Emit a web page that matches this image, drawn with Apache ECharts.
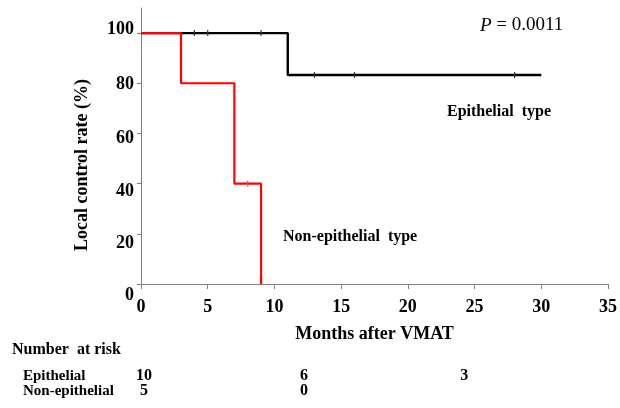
<!DOCTYPE html>
<html>
<head>
<meta charset="utf-8">
<script src="https://cdn.jsdelivr.net/npm/echarts@6/dist/echarts.min.js"></script>
<style>html,body{margin:0;padding:0;background:#fff;}#c{width:620px;height:408px;}</style>
</head>
<body>
<div id="c"></div>
<script>
// Kaplan-Meier steps (months, local control %)
const epiTimes = [0, 11, 30];
const epiRate = [100, 83.3, 83.3];
const nonTimes = [0, 3, 7, 9];
const nonRate = [100, 80, 40, 0];
// censoring marks
const epiCensorTimes = [4, 5, 9, 13, 16, 28];
const epiCensorRate = [100, 100, 100, 83.3, 83.3, 83.3];
const nonCensorTimes = [8];
const nonCensorRate = [40];
// number at risk
const riskTimes = [0, 12, 24];
const riskGroups = ['Epithelial', 'Non-epithelial'];
const epiRisk = [10, 6, 3];
const nonRisk = [5, 0];
// ticks
const xTicks = [0, 5, 10, 15, 20, 25, 30, 35];
const yTicks = [0, 20, 40, 60, 80, 100];

const FONT = "'Liberation Serif','Times New Roman',serif";
const zip = (a, b) => a.map((v, i) => [v, b[i]]);

// label vertical quirks of the original (px shift)
const yShift = {0: 11, 20: 10, 40: 8, 60: 5, 80: 1, 100: -4};
const rich = {};
yTicks.forEach(v => {
  const d = yShift[v];
  rich['v' + v] = {
    fontFamily: FONT, fontWeight: 'bold', fontSize: 18, color: '#000',
    padding: d >= 0 ? [2 * d, 0, 0, 0] : [0, 0, -2 * d, 0]
  };
});

const riskData = [];
epiRisk.forEach((n, i) => riskData.push([riskTimes[i], riskGroups[0], n]));
nonRisk.forEach((n, i) => riskData.push([riskTimes[i], riskGroups[1], n]));

const chart = echarts.init(document.getElementById('c'), null, {renderer: 'canvas'});
chart.setOption({
  animation: false,
  backgroundColor: '#fff',
  textStyle: {fontFamily: FONT},
  grid: [
    {left: 141, right: 12, top: 8, bottom: 124, outerBoundsMode: 'none', containLabel: false},
    {left: 141, right: 12, top: 368, height: 31, outerBoundsMode: 'none', containLabel: false}
  ],
  xAxis: [{
    type: 'value', gridIndex: 0, min: 0, max: 35, interval: 5,
    name: 'Months after VMAT', nameLocation: 'middle', nameGap: 41,
    nameTextStyle: {fontFamily: FONT, fontWeight: 'bold', fontSize: 18, color: '#000'},
    axisLine: {lineStyle: {color: '#808080', width: 1}},
    axisTick: {show: true, length: 5, lineStyle: {color: '#808080'}},
    axisLabel: {customValues: xTicks, margin: 14, fontFamily: FONT, fontWeight: 'bold', fontSize: 18, color: '#000'},
    splitLine: {show: false}
  }, {
    type: 'value', gridIndex: 1, min: 0, max: 35, show: false
  }],
  yAxis: [{
    type: 'value', gridIndex: 0, min: 0, max: 110, interval: 10,
    name: 'Local control rate (%)', nameLocation: 'middle', nameGap: 50,
    nameTextStyle: {fontFamily: FONT, fontWeight: 'bold', fontSize: 18, color: '#000', padding: [0, 38, 0, 0]},
    axisLine: {show: true, lineStyle: {color: '#808080', width: 1}},
    axisTick: {show: true, customValues: yTicks, length: 4, lineStyle: {color: '#808080'}},
    axisLabel: {
      customValues: yTicks, margin: 7,
      formatter: v => '{v' + v + '|' + v + '}',
      rich: rich
    },
    splitLine: {show: false}
  }, {
    type: 'category', gridIndex: 1, data: riskGroups, inverse: true,
    axisLine: {show: false}, axisTick: {show: false},
    axisLabel: {interval: 0, hideOverlap: false, align: 'left', margin: 118, fontFamily: FONT, fontWeight: 'bold', fontSize: 15, color: '#000'}
  }],
  graphic: [
    {type: 'text', left: 12, top: 342, style: {text: 'Number  at risk', font: 'bold 16px ' + FONT, fill: '#000'}},
    {type: 'text', left: 480, top: 16, style: {
      text: '{i|P} = 0.0011', fill: '#000',
      rich: {i: {fontFamily: FONT, fontStyle: 'italic', fontSize: 19, fill: '#000'}},
      font: '19px ' + FONT}},
    {type: 'text', left: 447, top: 104, style: {text: 'Epithelial  type', font: 'bold 16px ' + FONT, fill: '#000'}},
    {type: 'text', left: 283, top: 229, style: {text: 'Non-epithelial  type', font: 'bold 16px ' + FONT, fill: '#000'}}
  ],
  series: [
    {
      type: 'line', xAxisIndex: 0, yAxisIndex: 0, step: 'end', symbol: 'none',
      data: zip(epiTimes, epiRate), lineStyle: {color: '#000', width: 2.4}, z: 2
    },
    {
      type: 'scatter', xAxisIndex: 0, yAxisIndex: 0, symbol: 'rect', symbolSize: [1.2, 6],
      data: zip(epiCensorTimes, epiCensorRate), itemStyle: {color: '#333', opacity: 1}, z: 3
    },
    {
      type: 'line', xAxisIndex: 0, yAxisIndex: 0, step: 'end', symbol: 'none',
      data: zip(nonTimes, nonRate), lineStyle: {color: '#ff0000', width: 2.2}, z: 4
    },
    {
      type: 'scatter', xAxisIndex: 0, yAxisIndex: 0, symbol: 'rect', symbolSize: [1.2, 6],
      data: zip(nonCensorTimes, nonCensorRate), itemStyle: {color: '#ff4040', opacity: 1}, z: 5
    },
    {
      type: 'scatter', xAxisIndex: 1, yAxisIndex: 1, symbolSize: 1,
      data: riskData,
      itemStyle: {color: 'rgba(0,0,0,0)', opacity: 1},
      label: {show: true, position: 'inside', formatter: p => String(p.value[2]),
        fontFamily: FONT, fontWeight: 'bold', fontSize: 16, color: '#000', opacity: 1,
        textBorderWidth: 0, offset: [3, 0]}
    }
  ]
});
</script>
</body>
</html>
